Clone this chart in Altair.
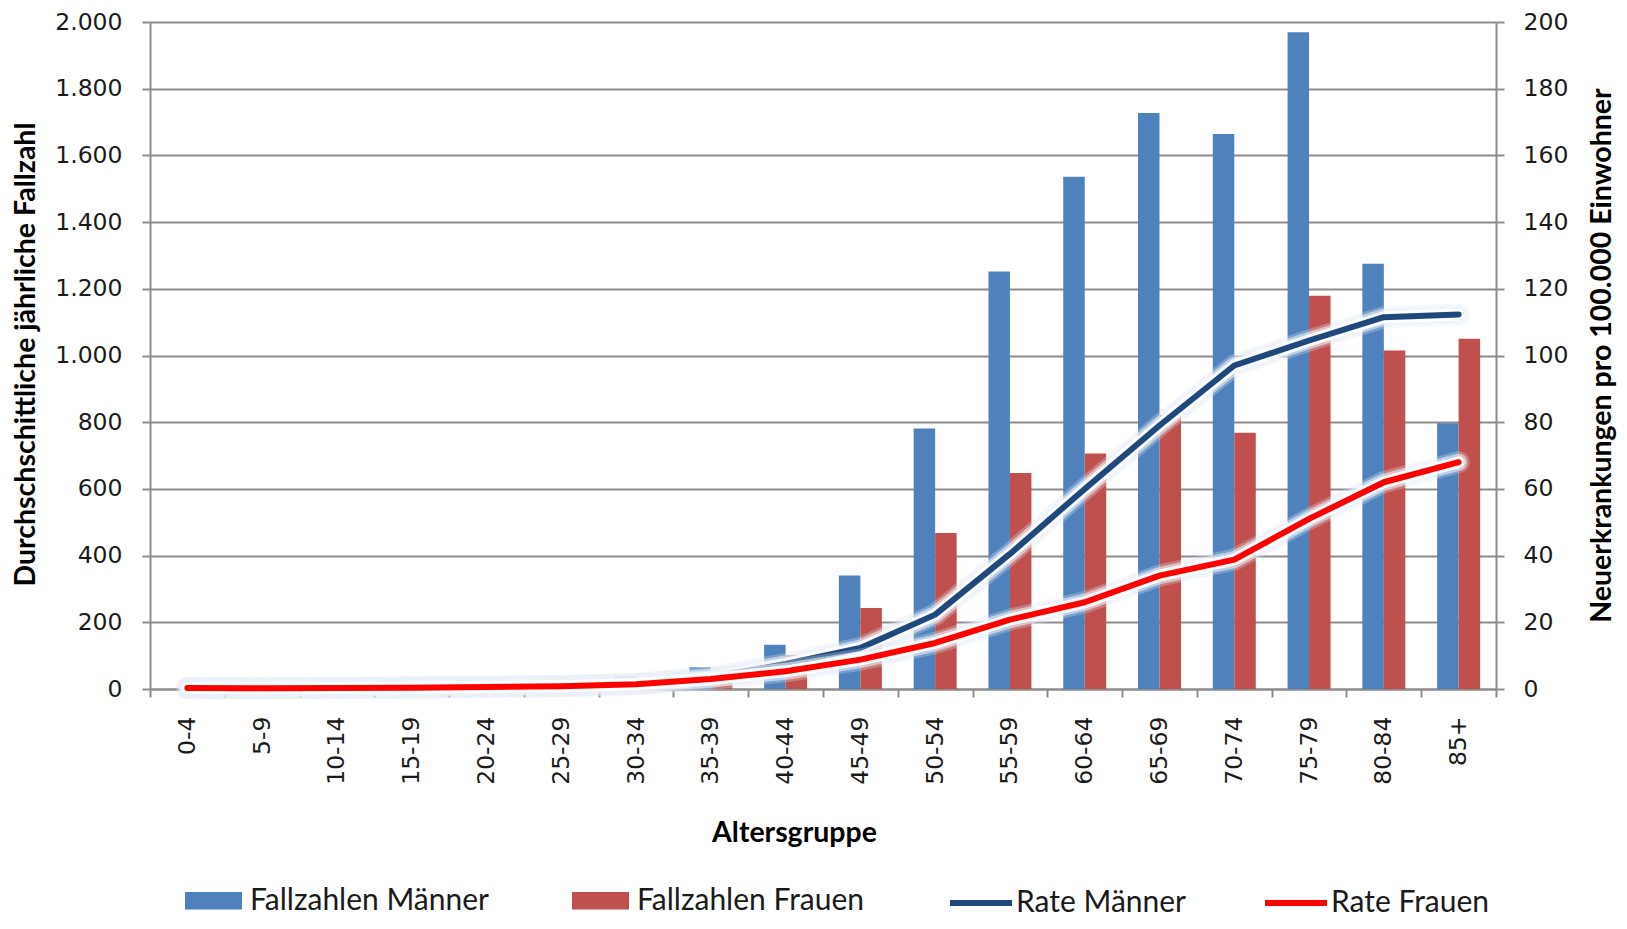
import altair as alt
import pandas as pd

# Altersgruppen
altersgruppen = ["0-4", "5-9", "10-14", "15-19", "20-24", "25-29", "30-34", "35-39",
                 "40-44", "45-49", "50-54", "55-59", "60-64", "65-69", "70-74", "75-79",
                 "80-84", "85+"]

# Durchschnittliche jährliche Fallzahlen
fallzahlen_maenner = [0, 0, 1, 2, 4, 10, 38, 65, 133, 340, 781, 1252, 1536, 1727, 1664, 1969, 1275, 797]
fallzahlen_frauen = [0, 0, 1, 2, 5, 12, 25, 50, 102, 243, 468, 648, 706, 822, 768, 1179, 1015, 1050]

# Neuerkrankungen pro 100.000 Einwohner
rate_maenner = [0.3, 0.2, 0.3, 0.5, 0.7, 0.9, 1.5, 3.5, 7.5, 12.3, 22.3, 40.5, 60.0, 79.0, 97.0, 104.5, 111.5, 112.3]
rate_frauen = [0.3, 0.2, 0.3, 0.4, 0.6, 0.8, 1.4, 3.0, 5.3, 8.8, 13.8, 20.8, 26.0, 34.0, 38.8, 51.0, 62.0, 68.0]

bar_series = ["Fallzahlen Männer", "Fallzahlen Frauen"]
bar_colors = ["#4F81BD", "#C0504D"]
line_series = ["Rate Männer", "Rate Frauen"]
line_colors = ["#1F497D", "#FF0000"]

df_bars = pd.DataFrame({
    "Altersgruppe": altersgruppen * 2,
    "Serie": [bar_series[0]] * len(altersgruppen) + [bar_series[1]] * len(altersgruppen),
    "Fallzahl": fallzahlen_maenner + fallzahlen_frauen,
})
df_rate = pd.DataFrame({
    "Altersgruppe": altersgruppen * 2,
    "Serie": [line_series[0]] * len(altersgruppen) + [line_series[1]] * len(altersgruppen),
    "Rate": rate_maenner + rate_frauen,
})

TICK_FONT = "DejaVu Sans"
TITLE_FONT = "Lato"
GRAY = "#8C8C8C"
TEXT = "#1A1A1A"

x_enc = alt.X(
    "Altersgruppe:N",
    sort=altersgruppen,
    scale=alt.Scale(paddingInner=0, paddingOuter=0),
    axis=alt.Axis(
        title="Altersgruppe",
        labelAngle=270,
        tickBand="extent",
        labelPadding=19,
        titleX=644,
        titleY=143,
        titleAlign="center",
        titleBaseline="middle",
    ),
)

bars = alt.Chart(df_bars).mark_bar().encode(
    x=x_enc,
    xOffset=alt.XOffset("Serie:N", sort=bar_series,
                        scale=alt.Scale(domain=bar_series, paddingInner=0, paddingOuter=0.74)),
    y=alt.Y(
        "Fallzahl:Q",
        scale=alt.Scale(domain=[0, 2000], nice=False),
        axis=alt.Axis(
            orient="left",
            values=list(range(0, 2001, 200)),
            labelExpr="replace(format(datum.value, ','), ',', '.')",
            title="Durchschschittliche jährliche Fallzahl",
            grid=True,
            labelPadding=20,
            titleAngle=270,
            titleX=-125,
            titleY=332,
            titleAlign="center",
            titleBaseline="middle",
        ),
    ),
    color=alt.Color(
        "Serie:N",
        scale=alt.Scale(domain=bar_series, range=bar_colors),
        legend=alt.Legend(
            title=None,
            orient="none",
            legendX=35,
            legendY=850,
            direction="horizontal",
            symbolType="M-1,-0.31H1V0.31H-1Z",
            symbolSize=3249,
            symbolStrokeWidth=0,
            columnPadding=82,
            labelOffset=8,
            labelFontSize=30,
            labelFont=TITLE_FONT,
            labelColor=TEXT,
            labelLimit=500,
            padding=0,
        ),
    ),
)

rate_y = alt.Y(
    "Rate:Q",
    scale=alt.Scale(domain=[0, 200], nice=False),
    axis=alt.Axis(
        orient="right",
        values=list(range(0, 201, 20)),
        grid=False,
        labelPadding=19,
        title="Neuerkrankungen pro 100.000 Einwohner",
        titleAngle=270,
        titleX=105,
        titleY=333,
        titleAlign="center",
        titleBaseline="middle",
    ),
)

rate_color = alt.Color(
    "Serie:N",
    scale=alt.Scale(domain=line_series, range=line_colors),
    legend=alt.Legend(
        title=None,
        orient="none",
        legendX=797,
        legendY=847,
        direction="horizontal",
        symbolType="stroke",
        symbolSize=3844,
        symbolStrokeWidth=6,
        columnPadding=66,
        labelOffset=1,
        labelFontSize=30,
        labelFont=TITLE_FONT,
        labelColor=TEXT,
        labelLimit=500,
        padding=0,
    ),
)


def rate_series(name):
    base = alt.Chart(df_rate).transform_filter(alt.datum.Serie == name).encode(x=x_enc, y=rate_y)
    # soft white halo under each rate line
    halo = [
        base.mark_line(color="#DCE6F3", strokeWidth=22, opacity=0.3,
                       strokeCap="round", strokeJoin="round"),
        base.mark_line(color="#EDF2F9", strokeWidth=17, opacity=0.6,
                       strokeCap="round", strokeJoin="round"),
        base.mark_line(color="#FFFFFF", strokeWidth=12, opacity=0.9,
                       strokeCap="round", strokeJoin="round"),
    ]
    line = base.mark_line(strokeWidth=6, strokeCap="round", strokeJoin="round").encode(color=rate_color)
    return halo + [line]


lines = alt.layer(*rate_series(line_series[0]), *rate_series(line_series[1]))

chart = (
    alt.layer(bars, lines)
    .resolve_scale(y="independent", color="independent")
    .properties(
        width=1346,
        height=667,
        autosize=alt.AutoSizeParams(type="none"),
        padding={"left": 150, "top": 22, "right": 131, "bottom": 240},
        background="white",
    )
    .configure_view(stroke=None)
    .configure_axis(
        domainColor=GRAY,
        domainWidth=2,
        tickColor=GRAY,
        tickWidth=2,
        tickSize=8,
        gridColor=GRAY,
        gridWidth=2,
        labelFont=TICK_FONT,
        labelFontSize=23.5,
        labelColor=TEXT,
        titleFont=TITLE_FONT,
        titleFontSize=28.5,
        titleFontWeight="bold",
        titleColor="#000000",
    )
)

chart.save("out.html", embed_options={"renderer": "svg", "actions": False})
